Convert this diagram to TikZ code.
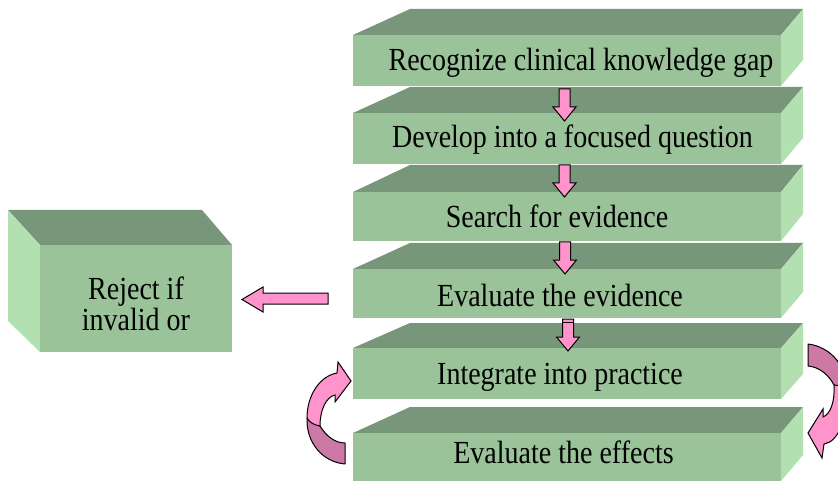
\documentclass[tikz,border=0pt]{standalone}
\usepackage{fontspec}
\setmainfont{Liberation Serif}
\usepackage{graphicx}
\definecolor{frontc}{RGB}{155,195,154}
\definecolor{topc}{RGB}{120,150,121}
\definecolor{sidec}{RGB}{178,224,177}
\definecolor{pinkl}{RGB}{255,148,204}
\definecolor{pinkd}{RGB}{204,122,165}
\tikzset{
  frontface/.style={fill=frontc, draw=none, inner sep=0pt, outer sep=0pt, anchor=north west},
  lbl/.style={font=\fontsize{28}{30}\selectfont, anchor=base, inner sep=0pt},
  blk/.style={fill=pinkl, draw=black, line width=1pt, line join=miter},
  blkd/.style={fill=pinkd, draw=black, line width=1pt, line join=round},
}
\newcommand\sx[1]{\scalebox{1}[1.15]{#1}}
% name, top-back y, front-top y, bottom y
\newcommand\mybox[4]{%
  \fill[topc] (353,#3) -- (410,#2) -- (803,#2) -- (781,#3) -- cycle;
  \fill[sidec] (781,#3) -- (803,#2) -- (803,{#4-#3+#2}) -- (781,#4) -- cycle;
  \node[frontface, minimum width=428pt, minimum height={(#4-#3)*1pt}] (#1) at (353,#3) {};
}
% centre x, top y
\newcommand\dnarrow[2]{%
  \draw[blk] ({#1-5.5},#2) -- ({#1+5.5},#2) -- ({#1+5.5},{#2+18}) -- ({#1+11.5},{#2+18})
    -- (#1,{#2+32}) -- ({#1-11.5},{#2+18}) -- ({#1-5.5},{#2+18}) -- cycle;
}
\begin{document}
\begin{tikzpicture}[x=1pt,y=-1pt]
\useasboundingbox (0,0) rectangle (838,481);
\fill[white] (0,0) rectangle (838,481);
\clip (0,0) rectangle (838,481);

% stacked step boxes
\mybox{b1}{9}{35}{86}
\mybox{b2}{87}{113}{164}
\mybox{b3}{165}{192}{241}
\mybox{b4}{243}{269}{318}
\mybox{b5}{323}{348}{399}
\mybox{b6}{407}{433}{481}

% reject box
\fill[topc] (40,245) -- (8,210) -- (202,210) -- (232,245) -- cycle;
\fill[sidec] (8,210) -- (40,245) -- (40,352) -- (8,321) -- cycle;
\node[frontface, minimum width=192pt, minimum height=107pt] (rj) at (40,245) {};

% labels
\node[lbl] (t1) at (581,71) {\sx{Recognize clinical knowledge gap}};
\node[lbl] (t2) at (572.5,148) {\sx{Develop into a focused question}};
\node[lbl] (t3) at (557,228) {\sx{Search for evidence}};
\node[lbl] (t4) at (560,306) {\sx{Evaluate the evidence}};
\node[lbl] (t5) at (560,384) {\sx{Integrate into practice}};
\node[lbl] (t6) at (563.5,463) {\sx{Evaluate the effects}};
\node[lbl] (r1) at (136,299) {\sx{Reject if}};
\node[lbl] (r2) at (136,330) {\sx{invalid or}};

% down arrows
\dnarrow{564.5}{89}
\dnarrow{564.5}{165}
\dnarrow{565}{242}
\dnarrow{568}{319}
\draw[black, line width=1pt] (562.5,322) -- (573.5,322);

% left arrow
\draw[blk] (328,293) -- (263,293) -- (263,287) -- (242,299.5) -- (263,312) -- (263,304) -- (328,304) -- cycle;

% left curved arrow
\draw[blkd] (345,464) .. controls (322,462) and (306,442) .. (307,418) -- (320,426)
  .. controls (326,436) and (335,443) .. (345,443) -- cycle;
\draw[blk] (307,418) .. controls (307,395) and (320,376) .. (337,373) -- (338,362) -- (351,381)
  -- (335,402) -- (335,395) .. controls (326,397) and (320,410) .. (320,426)
  .. controls (314,425) and (309,422) .. (307,418) -- cycle;

% right curved arrow
\draw[blkd] (808,344) .. controls (832,347) and (848,368) .. (847,392) -- (834,385)
  .. controls (828,374) and (819,367) .. (808,366) -- cycle;
\draw[blk] (847,392) .. controls (847,420) and (838,442) .. (824,444) -- (822,458) -- (808,433)
  -- (823,409) -- (823,417) .. controls (831,414) and (835,400) .. (834,385)
  .. controls (840,385) and (845,388) .. (847,392) -- cycle;
\end{tikzpicture}
\end{document}
